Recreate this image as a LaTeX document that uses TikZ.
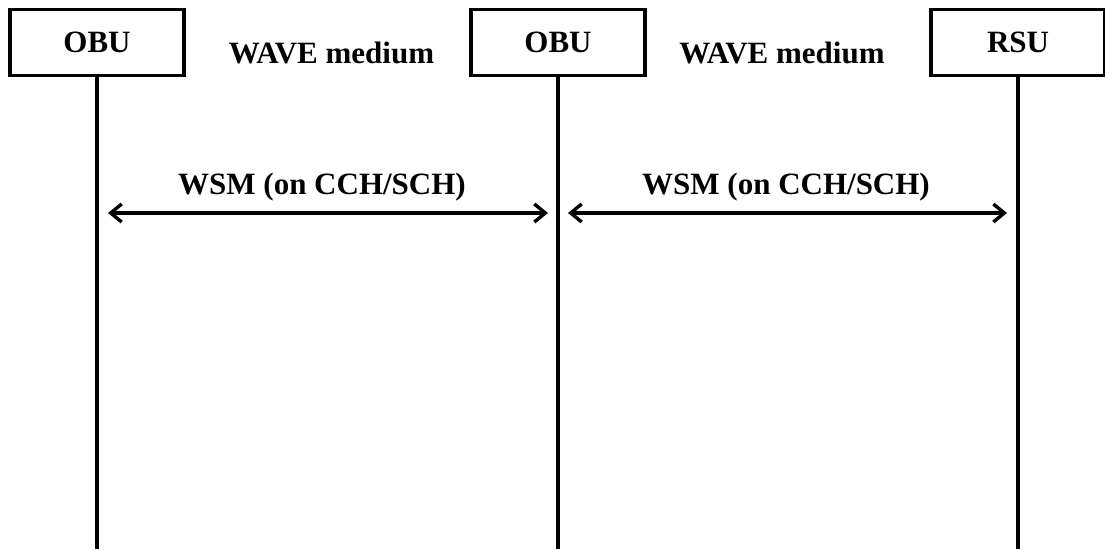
\documentclass[tikz,border=0pt]{standalone}
\usepackage{fontspec}
\setmainfont{Liberation Serif}
\usetikzlibrary{arrows.meta}
\tikzset{
  entity/.style={draw=black, line width=3.2pt, fill=white, minimum width=174pt, minimum height=66pt,
    inner sep=0pt, font=\bfseries\fontsize{31}{37}\selectfont},
  lbl/.style={anchor=base, inner sep=0pt, font=\bfseries\fontsize{31}{37}\selectfont},
  lifeline/.style={draw=black, line width=3.2pt},
  msg/.style={draw=black, line width=3.2pt, {Straight Barb[length=11pt,width=18pt,line width=3.4pt]}-{Straight Barb[length=11pt,width=18pt,line width=3.4pt]}, shorten <=11pt, shorten >=10pt}
}
\begin{document}
\begin{tikzpicture}[x=1pt,y=-1pt]
\useasboundingbox (0,0) rectangle (1105,549);
\fill[white] (0,0) rectangle (1105,549);
% entities
\node[entity] (obu1) at (97,42.5) {OBU};
\node[entity] (obu2) at (558,42.5) {OBU};
\node[entity] (rsu) at (1018,42.5) {RSU};
% lifeline ends
\coordinate (e1) at (97,549);
\coordinate (e2) at (558,549);
\coordinate (e3) at (1018,549);
\draw[lifeline] (obu1.south) -- (e1);
\draw[lifeline] (obu2.south) -- (e2);
\draw[lifeline] (rsu.south) -- (e3);
% medium labels
\node[lbl] (w1) at (331.5,63) {WAVE medium};
\node[lbl] (w2) at (782,63) {WAVE medium};
% message points
\coordinate (m1) at (97,213);
\coordinate (m2) at (558,213);
\coordinate (m3) at (1018,213);
\draw[msg] (m1) -- (m2);
\draw[msg, shorten <=10pt, shorten >=11pt] (m2) -- (m3);
\node[lbl] (s1) at (322,194) {WSM (on CCH/SCH)};
\node[lbl] (s2) at (786,194) {WSM (on CCH/SCH)};
\end{tikzpicture}
\end{document}
